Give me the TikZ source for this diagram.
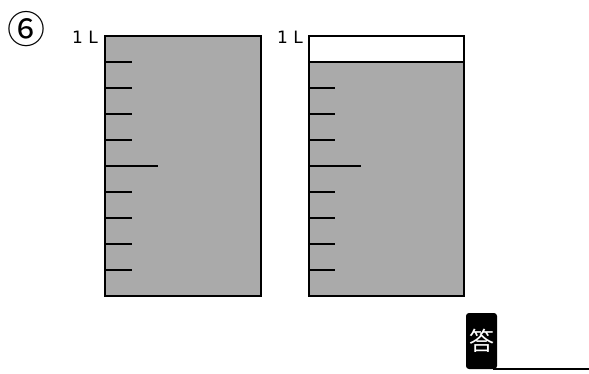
\documentclass[tikz,border=0pt]{standalone}
\usepackage{fontspec}
\setmainfont{DejaVu Sans}
\newfontfamily\cjk{Noto Sans CJK JP}
\definecolor{water}{HTML}{AAAAAA}
\tikzset{
  wall/.style={draw=black, line width=2pt},
  tick/.style={draw=black, line width=2pt},
  lbl/.style={inner sep=0pt, font=\fontsize{17}{17}\selectfont},
}
\begin{document}
\begin{tikzpicture}[x=1pt,y=-1pt]
\useasboundingbox (0,0) rectangle (589,374);
% problem number
\node[inner sep=0pt, anchor=center, font=\cjk\fontsize{38}{38}\selectfont] (num) at (26,29) {⑥};
% left container (full)
\fill[water] (105,36) rectangle (261,296);
\draw[wall] (105,36) rectangle (261,296);
\node[lbl, anchor=base east] (lblA) at (98,44) {1 L};
\foreach \i in {1,...,9} {
  \pgfmathsetmacro{\yy}{36+26*\i}
  \ifnum\i=5
    \draw[tick] (105,\yy) -- (158,\yy);
  \else
    \draw[tick] (105,\yy) -- (132,\yy);
  \fi
}
% right container (1 dL empty)
\fill[water] (309,62) rectangle (464,296);
\draw[wall] (309,36) rectangle (464,296);
\draw[wall] (309,62) -- (464,62);
\node[lbl, anchor=base east] (lblB) at (303,44) {1 L};
\foreach \i in {2,...,9} {
  \pgfmathsetmacro{\yy}{36+26*\i}
  \ifnum\i=5
    \draw[tick] (309,\yy) -- (361,\yy);
  \else
    \draw[tick] (309,\yy) -- (335,\yy);
  \fi
}
% answer
\node[fill=black, rounded corners=3pt, minimum width=31pt, minimum height=56pt, inner sep=0pt, text=white, font=\cjk\fontsize{25}{25}\selectfont] (ans) at (481.5,341) {答};
\coordinate (lineEnd) at (589,370);
\draw[line width=2pt] (ans.south east) ++(-4,0) coordinate (lineStart) -- (lineEnd |- lineStart);
\end{tikzpicture}
\end{document}
